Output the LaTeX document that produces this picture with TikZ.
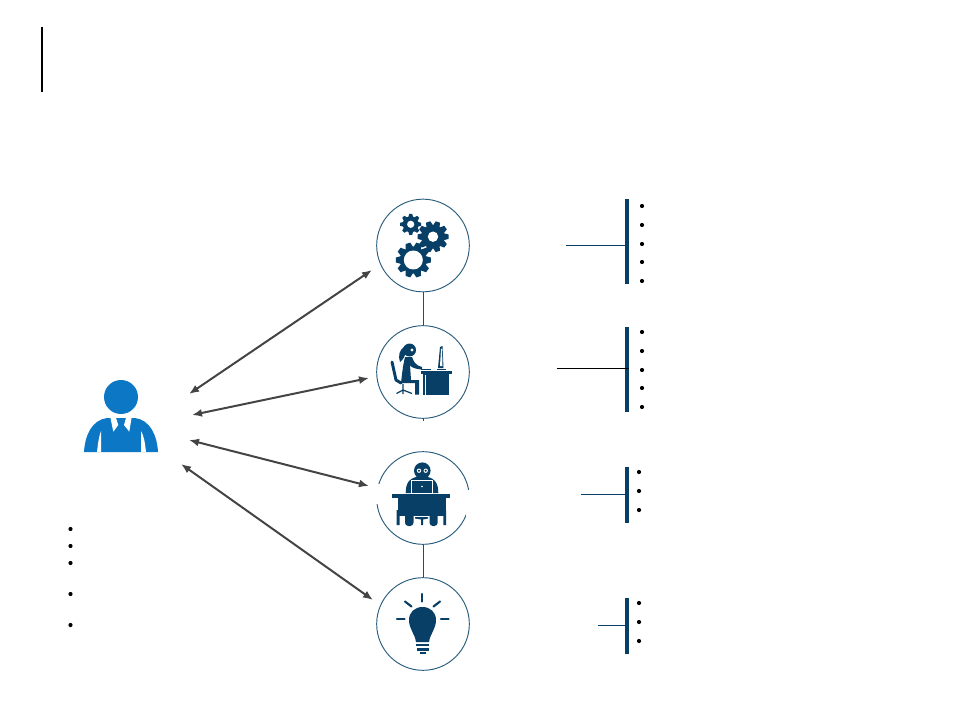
\documentclass[tikz,border=0pt]{standalone}
\usepackage{xcolor}
\usetikzlibrary{positioning,arrows.meta,calc}

\definecolor{deepnavy}{HTML}{073F66}
\definecolor{ringblue}{HTML}{2A5D7C}
\definecolor{userblue}{HTML}{0B77C5}
\definecolor{linkgrey}{HTML}{444444}

\newcommand{\gearicon}[5]{%
  \fill[deepnavy] (#1,#2) circle ({0.76*#3});
  \foreach \a in {0,#5,...,359}
    \fill[deepnavy,shift={(#1,#2)},rotate=\a] ({0.68*#3},{-0.23*#3}) -- (#3,{-0.14*#3}) -- (#3,{0.14*#3}) -- ({0.68*#3},{0.23*#3}) -- cycle;
  \fill[white] (#1,#2) circle (#4);
}

\begin{document}
\begin{tikzpicture}[x=0.75pt,y=-0.75pt,
  ring/.style={circle,draw=ringblue,line width=0.7pt,fill=white,minimum size=69.5pt,inner sep=0pt},
  detailbar/.style={rectangle,fill=deepnavy,inner sep=0pt,minimum width=3pt},
  linkarrow/.style={{Latex[length=7.5pt,width=6pt]}-{Latex[length=7.5pt,width=6pt]},draw=linkgrey,line width=1.5pt},
  stem/.style={draw=linkgrey,line width=0.7pt},
  lead/.style={draw=deepnavy,line width=0.65pt},
  iconline/.style={draw=deepnavy,line width=1.6pt,line cap=round}]
  \useasboundingbox (0,0) rectangle (960,720);

  \draw[line width=1pt] (42,27) -- (42,92);

  % circles down the middle
  \node[ring] (gears) at (423,245.5) {};
  \node[ring] (office) at (423,372) {};
  \node[ring] (laptop) at (423,498) {};
  \node[ring] (bulb) at (423,624) {};
  \coordinate (officeend) at (423,421);
  \draw[stem] (gears) -- (office);
  \draw[stem] (office) -- (officeend);
  \draw[stem] (laptop) -- (bulb);
  \fill[white] (375,484) rectangle (380,504) (466,490) rectangle (471,516);

  % user
  \fill[userblue] (121,397) circle (17);
  \fill[userblue] (84,452) .. controls (85,435) and (92,420) .. (107,418) -- (135,418)
    .. controls (150,420) and (157,435) .. (158,452) -- cycle;
  \fill[white] (97,452) .. controls (98,443) and (99,436) .. (101,431) -- (101,452) -- cycle;
  \fill[white] (146,452) .. controls (145,443) and (144,436) .. (141,431) -- (141,452) -- cycle;
  \fill[white] (110.3,417) -- (115.7,417) -- (118.3,425) -- (113.3,431.7) -- cycle;
  \fill[white] (131.7,417) -- (126.3,417) -- (124,425) -- (129.3,431.7) -- cycle;

  % arrows
  \coordinate (userA) at (189,394);
  \coordinate (userB) at (192,415);
  \coordinate (userC) at (189,440);
  \coordinate (userD) at (181,464);
  \coordinate (gearsend) at (372,270);
  \coordinate (officearrow) at (369,378);
  \coordinate (laptopend) at (369,486);
  \coordinate (bulbend) at (373,600);
  \draw[linkarrow] (userA) -- (gearsend);
  \draw[linkarrow] (userB) -- (officearrow);
  \draw[linkarrow] (userC) -- (laptopend);
  \draw[linkarrow] (userD) -- (bulbend);

  % gears
  \gearicon{410.7}{224.3}{10.5}{3.6}{45}
  \gearicon{433}{236.7}{15.5}{5.2}{36}
  \gearicon{413.3}{260}{17.5}{9.5}{36}

  % woman at desk
  \fill[deepnavy] (420.7,371) rectangle (451.7,373.5);
  \fill[deepnavy] (423,373.5) rectangle (449,394.5);
  \fill[white] (424.5,375) rectangle (425.7,394.5);
  \fill[deepnavy] (440,347) -- (442.5,346) -- (443.5,368) -- (438,368) -- cycle;
  \fill[deepnavy] (437,368.5) rectangle (446,370);
  \fill[white] (441,349) -- (442,348.5) -- (442.5,366) -- (440,366) -- cycle;
  \fill[deepnavy] (421,368.5) rectangle (431,370);
  \fill[deepnavy] (409.5,350) circle (6.5);
  \fill[white] (412,350) circle (1.7);
  \fill[deepnavy] (405,346) .. controls (399,350) and (398,356) .. (400,362) .. controls (403,360) and (405,356) .. (406,352) -- cycle;
  \fill[deepnavy] (405,357) -- (412,357) .. controls (414,362) and (415,365) .. (422,367) -- (422,369.5)
    .. controls (414,369) and (411,367) .. (410,365) -- (411,380) -- (419,380) -- (419,394.5) -- (415,394.5) -- (415,383) -- (401,383) .. controls (402,374) and (403,365) .. (405,357) -- cycle;
  \draw[iconline,line width=2.2pt] (392,362) -- (396,380) -- (401,383);
  \draw[deepnavy,line width=0.9pt] (403,384) -- (403,390) (396.5,393.5) -- (403,390) -- (412,393.5) (403,390) -- (403,394);

  % person with laptop
  \fill[deepnavy] (422.3,470.7) circle (8.3);
  \fill[deepnavy] (405.7,493) .. controls (405.7,483) and (409,477) .. (422,476) .. controls (435,477) and (438.3,483) .. (438.3,493) -- cycle;
  \fill[white] (419,470.7) circle (2.2) (425.7,470.7) circle (2.2);
  \fill[deepnavy] (419,470.7) circle (1.2) (425.7,470.7) circle (1.2);
  \draw[white,line width=0.6pt,fill=deepnavy] (411.7,480.5) rectangle (432.3,493);
  \fill[white] (422,486.5) circle (0.9);
  \fill[deepnavy] (392.3,494) rectangle (450,497.5);
  \fill[deepnavy] (397.7,497.5) rectangle (446,516);
  \fill[deepnavy] (396.7,510) rectangle (399.5,525) (443.3,510) rectangle (446,525);
  \fill[deepnavy,rounded corners=2.5pt] (405,512) rectangle (413.5,526) (429.5,512) rectangle (437.7,526);
  \fill[deepnavy] (415,517) -- (428,517) -- (428,518.5) -- (423,519.5) -- (423,525) -- (421,525) -- (421,519.5) -- (415,518.5) -- cycle;

  % bulb
  \fill[deepnavy] (416,642) .. controls (415,634) and (409,629) .. (409,620)
    .. controls (409,612) and (415,607) .. (422.5,607) .. controls (430,607) and (436,612) .. (436,620)
    .. controls (436,629) and (430,634) .. (429,642) -- cycle;
  \fill[deepnavy] (416,644) rectangle (429,646.3);
  \fill[deepnavy] (416.5,648) rectangle (428.5,650.5);
  \fill[deepnavy] (419.5,652) rectangle (425.5,653.7);
  \draw[iconline] (422.3,594) -- (422.3,601.5);
  \draw[iconline] (405,601.5) -- (411.5,606.5);
  \draw[iconline] (440,601.5) -- (433.5,606.5);
  \draw[iconline] (397,619) -- (404.5,619);
  \draw[iconline] (441,619) -- (448.5,619);

  % bars and leads
  \node[detailbar,minimum height=63.75pt] (barA) at (627,241.5) {};
  \node[detailbar,minimum height=63.75pt] (barB) at (627,369.5) {};
  \node[detailbar,minimum height=42pt] (barC) at (627,495) {};
  \node[detailbar,minimum height=42pt] (barD) at (627,626) {};
  \coordinate (leadA) at (566,245);
  \coordinate (leadB) at (557,368);
  \coordinate (leadC) at (581,494);
  \coordinate (leadD) at (598,625);
  \draw[lead] (leadA) -- (leadA -| barA.west);
  \draw[line width=0.65pt] (leadB) -- (leadB -| barB.east);
  \draw[lead] (leadC) -- (leadC -| barC.west);
  \draw[lead] (leadD) -- (leadD -| barD.west);

  % bullets
  \foreach \y in {529,546,563,594,625} \fill (70.5,\y) circle (2.1);
  \foreach \y in {206,225,244,262,281,332,351,370,388,407} \fill (642,\y) circle (2.1);
  \foreach \y in {472,491,510,603,622,641} \fill (639,\y) circle (2.1);
\end{tikzpicture}
\end{document}
